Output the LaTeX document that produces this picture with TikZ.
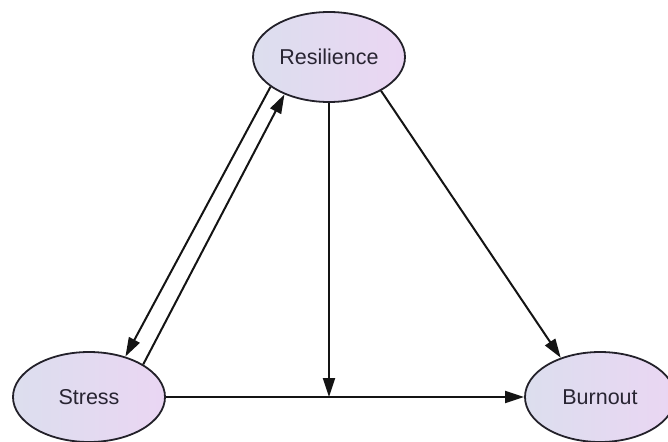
\documentclass[tikz,border=0pt]{standalone}
\usepackage{fontspec}
\setmainfont{Liberation Sans}
\usetikzlibrary{arrows.meta,shapes.geometric}
\definecolor{edgecol}{RGB}{20,20,20}
\definecolor{ellcol}{RGB}{35,33,42}
\definecolor{fillL}{RGB}{220,222,238}
\definecolor{fillR}{RGB}{234,214,243}
\definecolor{textcol}{RGB}{40,36,50}
\begin{document}
\begin{tikzpicture}[x=1pt,y=-1pt,
  concept/.style={ellipse, draw=ellcol, line width=1.8pt, left color=fillL, right color=fillR,
    minimum width=152pt, minimum height=90pt, inner sep=0pt,
    font=\fontsize{21.5}{25}\selectfont, text=textcol},
  conn/.style={draw=edgecol, line width=2pt, -{Triangle[length=19pt,width=12pt]}}]
\path[use as bounding box] (0,0) rectangle (668,441);
\clip (0,0) rectangle (668,441);
\node[concept] (res) at (329,57) {Resilience};
\node[concept] (stress) at (89,397) {Stress};
\node[concept, minimum width=150pt] (burn) at (600,397) {Burnout};
\coordinate (mid) at (329,397);
\draw[conn] (res.207.6) -- (stress.48.7);
\draw[conn] (stress.31.3) -- (res.220.2);
\draw[conn] (res.-33.7) -- (burn.135);
\draw[conn] (stress.east) -- (burn.west);
\draw[conn] (res.south) -- (mid);
\end{tikzpicture}
\end{document}
